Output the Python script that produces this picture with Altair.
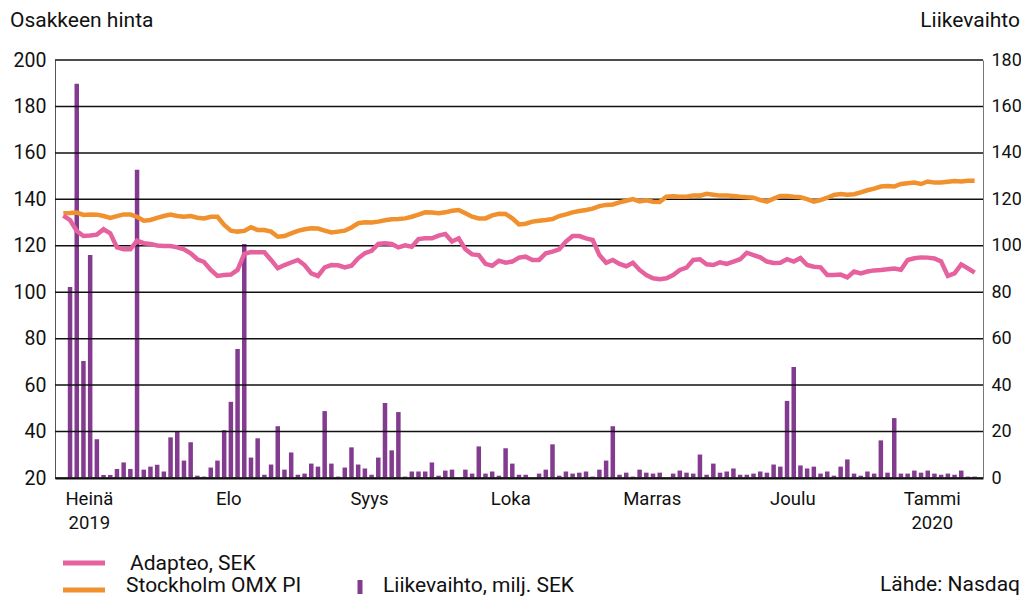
import altair as alt
import pandas as pd

# Adapteo share price, SEK (left axis)
adapteo = [
    133.0, 131.1, 126.4, 124.2, 124.4, 124.8, 127.1, 125.4, 119.3, 118.5,
    118.5, 122.2, 121.1, 120.8, 120.1, 119.9, 119.9, 119.3, 118.5, 116.8,
    114.2, 113.0, 109.6, 107.0, 107.4, 107.6, 109.6, 116.5, 117.3, 117.2,
    117.2, 113.9, 110.3, 111.7, 112.8, 113.9,
    111.7, 108.1, 107.0, 110.7, 111.7, 111.6, 110.7, 111.4, 114.6, 116.8,
    117.8, 120.8, 121.1, 120.8, 119.3, 120.2, 119.6, 122.9, 123.2, 123.2,
    124.4, 125.1, 121.8, 123.2, 118.5, 116.3, 116.0, 112.2, 111.4, 113.6,
    112.7, 113.2, 114.9, 115.3,
    113.9, 113.9, 116.8, 117.5, 118.5, 121.8, 124.2, 124.2, 123.2, 122.5,
    116.0, 112.7, 113.9, 112.2, 111.2, 112.7, 109.6, 107.4, 106.0, 105.6,
    106.0, 107.4, 109.6, 110.6, 113.9, 114.2, 112.0, 111.7, 112.9, 112.2,
    113.2, 114.2, 117.0, 116.0, 115.0,
    113.2, 112.6, 112.7, 114.2, 113.2, 114.7, 111.7, 111.0, 110.7, 107.4,
    107.4, 107.6, 106.4, 108.9, 108.1, 108.9, 109.4, 109.6, 109.9, 110.2,
    109.7, 113.9, 114.6, 115.0, 114.9, 114.5, 113.2, 107.0, 108.1, 112.0,
    110.3, 108.4,
]

# Stockholm OMX PI, rebased (left axis)
omx = [
    134.0, 134.1, 134.3, 133.3, 133.5, 133.4, 132.8, 132.0, 132.8, 133.5,
    133.5, 132.5, 130.8, 131.1, 132.0, 132.8, 133.4, 132.8, 132.5, 132.8,
    132.1, 131.8, 132.5, 132.5, 129.0, 126.5, 126.1, 126.4, 128.0, 126.8,
    126.8, 126.1, 123.9, 124.2, 125.3, 126.4,
    127.1, 127.5, 127.4, 126.5, 125.7, 126.1, 126.5, 127.9, 129.7, 130.1,
    130.0, 130.4, 131.0, 131.4, 131.5, 131.8, 132.5, 133.4, 134.4, 134.3,
    134.0, 134.4, 135.1, 135.4, 134.0, 132.5, 131.8, 131.8, 133.1, 133.8,
    133.7, 131.8, 129.2, 129.5,
    130.4, 130.8, 131.1, 131.5, 132.8, 133.5, 134.4, 135.0, 135.4, 136.0,
    137.1, 137.6, 137.8, 138.7, 139.4, 140.1, 139.1, 139.6, 139.0, 138.9,
    141.1, 141.3, 141.1, 141.1, 141.7, 141.6, 142.4, 142.0, 141.6, 141.7,
    141.4, 141.1, 140.9, 140.7, 139.7,
    139.0, 140.3, 141.4, 141.4, 141.1, 140.9, 140.1, 139.0, 139.7, 140.7,
    141.9, 142.3, 142.0, 142.2, 143.0, 143.9, 144.6, 145.5, 145.7, 145.5,
    146.6, 146.9, 147.2, 146.6, 147.7, 147.2, 147.3, 147.6, 147.9, 147.7,
    148.0, 148.0,
]

# Turnover, MSEK (right axis)
volume = [
    0.0,
    82.2, 169.8, 50.4, 96.0, 16.7, 1.3, 1.3, 3.9, 6.7, 3.9,
    132.7, 3.6, 4.9, 5.7, 2.8, 17.5, 20.0, 7.5, 15.4, 1.0,
    0.6, 4.5, 7.5, 20.6, 32.8, 55.6, 100.8, 8.8, 17.1, 1.4,
    5.8, 22.3, 3.6, 11.0, 1.4, 1.9, 6.2, 4.9, 28.8, 6.2,
    0.6, 4.5, 13.2, 5.8, 4.1,
    1.4, 8.8, 32.3, 11.9, 28.4, 0.6, 2.8, 2.8, 2.8, 6.7,
    1.0, 3.2, 3.6, 0.0, 3.6, 1.9, 13.6, 1.9, 2.8, 1.0,
    12.8, 6.2, 1.4, 1.4, 0.0, 1.9, 3.6, 14.5, 1.0, 2.8,
    1.9, 2.3, 2.8, 0.6, 3.6, 7.5, 22.3, 1.4, 2.3, 0.6,
    3.6, 2.3, 1.9, 2.3, 0.0, 1.9,
    3.2, 2.3, 1.9, 10.1, 1.4, 6.2, 2.3, 2.8, 4.1, 1.4,
    1.4, 1.9, 2.8, 2.3, 5.8, 4.9, 33.2, 47.8, 5.4, 4.1,
    4.9, 1.9, 2.8, 1.0, 4.9, 8.0, 1.9, 1.0, 2.8, 1.9,
    16.2, 2.3, 25.8, 1.9, 1.9, 3.2, 2.3, 3.2, 1.9, 1.4,
    1.9, 1.4, 3.2, 0.6, 0.6,
]

month_labels = ["Heinä|2019", "Elo", "Syys", "Loka", "Marras", "Joulu", "Tammi|2020"]
month_pos = [3.8, 24.6, 45.6, 66.7, 87.8, 108.8, 129.6]
left_ticks = [20, 40, 60, 80, 100, 120, 140, 160, 180, 200]
right_ticks = [0, 20, 40, 60, 80, 100, 120, 140, 160, 180]

title_left = ["Osakkeen hinta"]
title_right = ["Liikevaihto"]
legend_adapteo = ["Adapteo, SEK"]
legend_omx = ["Stockholm OMX PI"]
legend_vol = ["Liikevaihto, milj. SEK"]
source_note = ["Lähde: Nasdaq"]

PINK = "#E5629F"
ORANGE = "#F0912E"
PURPLE = "#833B8F"
FONT = "Roboto"

n = len(volume)
m = min(len(adapteo), len(omx), n)
df = pd.DataFrame({
    "i": list(range(m)),
    "adapteo": adapteo[:m],
    "omx": omx[:m],
})
dfv = pd.DataFrame({"i": list(range(n)), "vol": volume})
dfg = pd.DataFrame({"v": left_ticks})

# label expression built from the month lists
expr = "''"
for p, lab in reversed(list(zip(month_pos, month_labels))):
    expr = f"abs(datum.value - {p}) < 0.01 ? '{lab}' : ({expr})"
expr = f"split({expr}, '|')"

xscale = alt.Scale(domain=[-0.5, n - 0.5], nice=False, zero=False)
xaxis = alt.Axis(
    values=month_pos, labelExpr=expr, title=None, grid=False, ticks=False,
    domain=True, domainColor="#111", domainWidth=2, labelFont=FONT,
    labelFontSize=18.5, labelColor="#111", labelPadding=11, labelBaseline="top",
    labelLineHeight=24, labelAngle=0, labelOverlap=False, labelFlush=False,
)
X = alt.X("i:Q", scale=xscale, axis=xaxis)

bars = alt.Chart(dfv).mark_bar(size=4.5, color=PURPLE).encode(
    x=X,
    y=alt.Y("vol:Q", scale=alt.Scale(domain=[0, 180], nice=False),
            axis=alt.Axis(orient="right", values=right_ticks, title=None, grid=False,
                          ticks=False, domain=True, domainColor="#777", domainWidth=1,
                          labelFont=FONT, labelFontSize=18, labelColor="#111",
                          labelPadding=8)),
)

grid = alt.Chart(dfg).mark_rule(color="#111", strokeWidth=1.5).encode(
    y=alt.Y("v:Q", scale=alt.Scale(domain=[20, 200], nice=False, zero=False), axis=None),
)

line_omx = alt.Chart(df).mark_line(color=ORANGE, strokeWidth=4.5).encode(
    x=X,
    y=alt.Y("omx:Q", scale=alt.Scale(domain=[20, 200], nice=False, zero=False), axis=None),
)

line_ad = alt.Chart(df).mark_line(color=PINK, strokeWidth=4.5).encode(
    x=X,
    y=alt.Y("adapteo:Q", scale=alt.Scale(domain=[20, 200], nice=False, zero=False),
            axis=alt.Axis(orient="left", values=left_ticks, title=None, grid=False,
                          ticks=False, domain=True, domainColor="#555", domainWidth=1,
                          labelFont=FONT, labelFontSize=19.5, labelColor="#111",
                          labelPadding=9)),
)


def txt(lst, x, y, align="left", size=21):
    return alt.Chart(pd.DataFrame({"t": lst})).mark_text(
        align=align, baseline="alphabetic", font=FONT, fontSize=size, color="#111"
    ).encode(text="t:N", x=alt.value(x), y=alt.value(y))


def swatch(color, x1, x2, y, w=5):
    return alt.Chart(pd.DataFrame({"a": [0]})).mark_rule(color=color, strokeWidth=w).encode(
        x=alt.value(x1), x2=alt.value(x2), y=alt.value(y))


leg_vol = alt.Chart(pd.DataFrame({"a": [0]})).mark_rule(color=PURPLE, strokeWidth=5).encode(
    x=alt.value(305), y=alt.value(520), y2=alt.value(534))

chart = alt.layer(
    bars, grid, line_omx, line_ad,
    txt(title_left, -45, -33), txt(title_right, 965, -33, align="right"),
    swatch(PINK, 8, 50, 503), txt(legend_adapteo, 75, 510),
    swatch(ORANGE, 8, 50, 530), txt(legend_omx, 71, 532),
    leg_vol, txt(legend_vol, 328, 532),
    txt(source_note, 965, 531, align="right"),
).resolve_scale(y="independent").properties(
    width=928, height=418,
    padding={"left": 47, "top": 52, "right": 38, "bottom": 121},
    autosize=alt.AutoSizeParams(type="none"),
    background="white",
).configure_view(stroke=None)

chart.save("out.html", embed_options={"renderer": "svg", "actions": False})
